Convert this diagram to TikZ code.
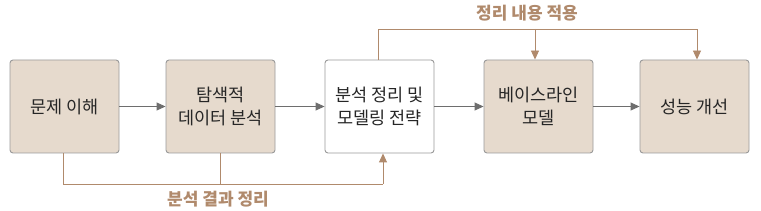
\documentclass[tikz,border=0pt]{standalone}
\usepackage{fontspec}
\setmainfont{Noto Sans CJK KR}
\usetikzlibrary{arrows.meta}
\definecolor{boxfill}{HTML}{E6DACD}
\definecolor{boxline}{HTML}{9A9A9A}
\definecolor{brownl}{HTML}{B08A6C}
\definecolor{grayarrow}{HTML}{6E6E6E}
\begin{document}
\begin{tikzpicture}[x=1pt,y=-1pt,
  stepbox/.style={draw=boxline,line width=0.9pt,rounded corners=3pt,minimum width=109pt,minimum height=93pt,align=center,font=\fontsize{17.5}{23}\selectfont,text=black!85,inner sep=0pt},
  tan/.style={stepbox,fill=boxfill},
  plain/.style={stepbox,fill=white},
  flow/.style={draw=grayarrow,line width=0.9pt,-{Triangle[length=9pt,width=8pt]}},
  fb/.style={draw=brownl,line width=0.9pt},
  fba/.style={fb,-{Triangle[length=9pt,width=8pt]}},
  lab/.style={text=brownl,font=\fontsize{17}{20}\selectfont\bfseries}
]
\useasboundingbox (0,0) rectangle (761,211);
\node[tan] (a) at (64.5,106.5) {문제 이해};
\node[tan] (b) at (220.5,106.5) {탐색적\\데이터 분석};
\node[plain] (c) at (379.5,106.5) {분석 정리 및\\모델링 전략};
\node[tan] (d) at (538.5,106.5) {베이스라인\\모델};
\node[tan] (e) at (694.5,106.5) {성능 개선};
\draw[flow] (a) -- (b);
\draw[flow] (b) -- (c);
\draw[flow] (c) -- (d);
\draw[flow] (d) -- (e);
\coordinate (bl) at (63,184);
\coordinate (br) at (383,184);
\draw[fb] (a.south -| bl) -- (bl) -- (br);
\draw[fb] (b.south) -- (b.south |- bl);
\draw[fba] (br) -- (br |- c.south);
\coordinate (tl) at (378,29);
\coordinate (tr) at (697,29);
\coordinate (tm) at (535,29);
\draw[fba] (tl |- c.north) -- (tl) -- (tr) -- (tr |- e.north);
\draw[fba] (tm) -- (tm |- d.north);
\node[lab] (tlab) at (527,13) {정리 내용 적용};
\node[lab] (blab) at (218,199) {분석 결과 정리};
\end{tikzpicture}
\end{document}
